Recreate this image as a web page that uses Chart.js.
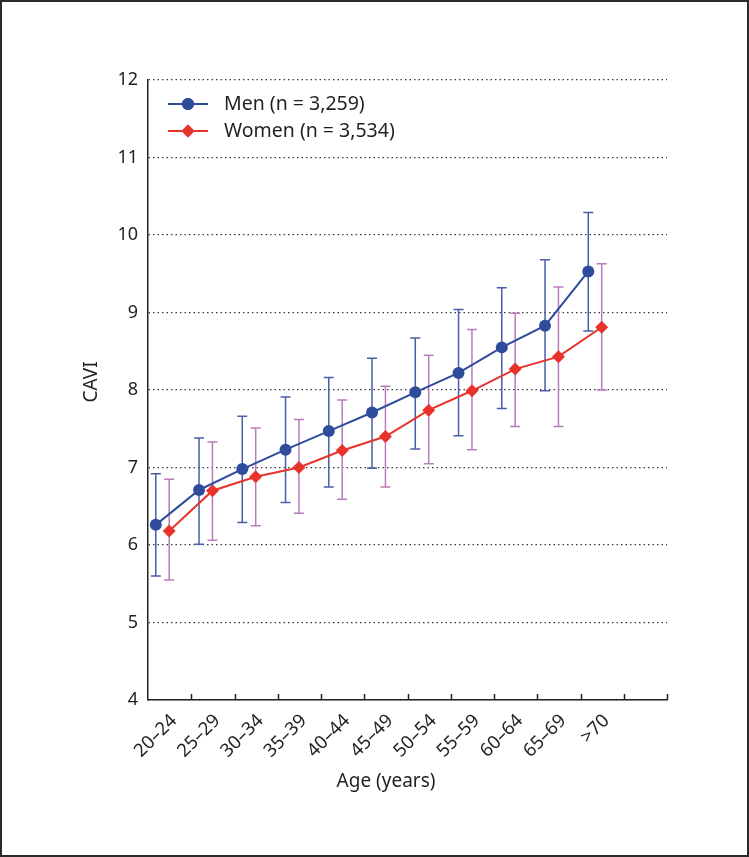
<!DOCTYPE html>
<html>
<head>
<meta charset="utf-8">
<script src="https://cdn.jsdelivr.net/npm/chart.js@4.4.1/dist/chart.umd.min.js"></script>
<style>
  html, body { margin: 0; padding: 0; background: #ffffff; }
  #frame { position: absolute; left: 0; top: 0; width: 749px; height: 857px; box-sizing: border-box; border: 2px solid #2b2b2b; }
  #chart { position: absolute; left: 0; top: 0; }
</style>
</head>
<body>
<div id="frame"></div>
<canvas id="chart" width="749" height="857"></canvas>
<script>
const ageGroups = ["20–24", "25–29", "30–34", "35–39", "40–44", "45–49", "50–54", "55–59", "60–64", "65–69", ">70"];

const menMean  = [6.26, 6.71, 6.98, 7.23, 7.47, 7.71, 7.97, 8.22, 8.55, 8.83, 9.53];
const menUpper = [6.92, 7.38, 7.66, 7.91, 8.16, 8.41, 8.67, 9.04, 9.32, 9.68, 10.29];
const menLower = [5.60, 6.01, 6.29, 6.55, 6.75, 6.99, 7.24, 7.41, 7.76, 7.99, 8.76];

const womenMean  = [6.18, 6.70, 6.88, 7.00, 7.22, 7.40, 7.74, 7.99, 8.27, 8.43, 8.81];
const womenUpper = [6.85, 7.33, 7.51, 7.62, 7.87, 8.05, 8.45, 8.78, 8.99, 9.33, 9.63];
const womenLower = [5.55, 6.06, 6.25, 6.41, 6.59, 6.75, 7.05, 7.23, 7.53, 7.53, 8.00];

const yTicks = [4, 5, 6, 7, 8, 9, 10, 11, 12];

const FONT = "'Noto Sans', 'Open Sans', sans-serif";
const TEXT = "#231f20";
const MEN_OFFSET = 0.18;
const WOMEN_OFFSET = 0.49;

const toPoints = (values, offset) => values.map((v, i) => ({ x: i + offset, y: v }));

// vertical SD bars with caps, drawn under the lines
const errorBars = {
  id: "errorBars",
  beforeDatasetsDraw(chart) {
    const { ctx, scales: { x, y } } = chart;
    chart.data.datasets.forEach((ds) => {
      ctx.save();
      ctx.strokeStyle = ds.errorColor;
      ctx.lineWidth = 1.5;
      ds.data.forEach((pt, i) => {
        const px = x.getPixelForValue(pt.x);
        const top = y.getPixelForValue(ds.errorHigh[i]);
        const bot = y.getPixelForValue(ds.errorLow[i]);
        ctx.beginPath();
        ctx.moveTo(px, top); ctx.lineTo(px, bot);
        ctx.moveTo(px - 5, top); ctx.lineTo(px + 5, top);
        ctx.moveTo(px - 5, bot); ctx.lineTo(px + 5, bot);
        ctx.stroke();
      });
      ctx.restore();
    });
  },
};

// inward tick marks, legend and axis titles
const decorations = {
  id: "decorations",
  afterDraw(chart) {
    const { ctx, scales: { x, y } } = chart;
    ctx.save();
    ctx.strokeStyle = "#222";
    ctx.lineWidth = 1.5;
    for (let v = 1; v <= 12; v++) {
      const px = Math.round(x.getPixelForValue(v)) + 0.5;
      ctx.beginPath();
      ctx.moveTo(px, y.bottom);
      ctx.lineTo(px, y.bottom - 6);
      ctx.stroke();
    }

    chart.data.datasets.forEach((ds, i) => {
      const rowY = 104 + i * 27;
      ctx.strokeStyle = ds.borderColor;
      ctx.lineWidth = 2;
      ctx.beginPath();
      ctx.moveTo(168, rowY);
      ctx.lineTo(208, rowY);
      ctx.stroke();
      ctx.fillStyle = ds.pointBackgroundColor;
      Chart.helpers.drawPoint(ctx, {
        pointStyle: ds.pointStyle,
        radius: ds.pointRadius,
        rotation: 0,
        borderWidth: 0,
      }, 188, rowY);
      ctx.fill();
      ctx.fillStyle = TEXT;
      ctx.font = "19.5px " + FONT;
      ctx.textAlign = "left";
      ctx.textBaseline = "middle";
      ctx.fillText(ds.label, 224, rowY);
    });

    ctx.fillStyle = TEXT;
    ctx.font = "19px " + FONT;
    ctx.textAlign = "center";
    ctx.textBaseline = "middle";
    ctx.fillText("Age (years)", 386, 782);
    ctx.translate(92, 382);
    ctx.rotate(-Math.PI / 2);
    ctx.fillText("CAVI", 0, 0);
    ctx.restore();
  },
};

new Chart(document.getElementById("chart"), {
  type: "scatter",
  data: {
    datasets: [
      {
        label: "Men (n = 3,259)",
        data: toPoints(menMean, MEN_OFFSET),
        errorHigh: menUpper,
        errorLow: menLower,
        errorColor: "#4a5ea8",
        showLine: true,
        borderColor: "#2f4b9c",
        borderWidth: 2,
        pointStyle: "circle",
        pointRadius: 6,
        pointBackgroundColor: "#2f4b9c",
        pointBorderWidth: 0,
      },
      {
        label: "Women (n = 3,534)",
        data: toPoints(womenMean, WOMEN_OFFSET),
        errorHigh: womenUpper,
        errorLow: womenLower,
        errorColor: "#b87cbc",
        showLine: true,
        borderColor: "#e8332b",
        borderWidth: 2,
        pointStyle: "rectRot",
        pointRadius: 6.5,
        pointBackgroundColor: "#e8332b",
        pointBorderWidth: 0,
      },
    ],
  },
  options: {
    responsive: false,
    animation: false,
    devicePixelRatio: 1,
    layout: { padding: { top: 80, right: 82, left: 0, bottom: 0 } },
    plugins: {
      legend: { display: false },
      tooltip: { enabled: false },
    },
    scales: {
      x: {
        type: "linear",
        min: 0,
        max: 12,
        afterFit(scale) { scale.height = 157; },
        afterBuildTicks(scale) {
          scale.ticks = ageGroups.map((_, i) => ({ value: i }));
        },
        grid: { display: false },
        border: { display: true, color: "#222", width: 1.5 },
        ticks: {
          autoSkip: false,
          minRotation: 45,
          maxRotation: 45,
          padding: 2,
          labelOffset: 26,
          color: TEXT,
          font: { family: FONT, size: 18.5 },
          callback: (value) => ageGroups[value] ?? "",
        },
      },
      y: {
        type: "linear",
        min: 4,
        max: 12,
        afterFit(scale) { scale.width = 148; },
        afterBuildTicks(scale) {
          scale.ticks = yTicks.map((v) => ({ value: v }));
        },
        grid: { color: "#3a3a3a", lineWidth: 1.2, drawTicks: false },
        border: { display: true, color: "#222", width: 1.5, dash: [1.5, 3] },
        ticks: {
          padding: 10,
          color: TEXT,
          font: { family: FONT, size: 18 },
        },
      },
    },
  },
  plugins: [errorBars, decorations],
});
</script>
</body>
</html>
